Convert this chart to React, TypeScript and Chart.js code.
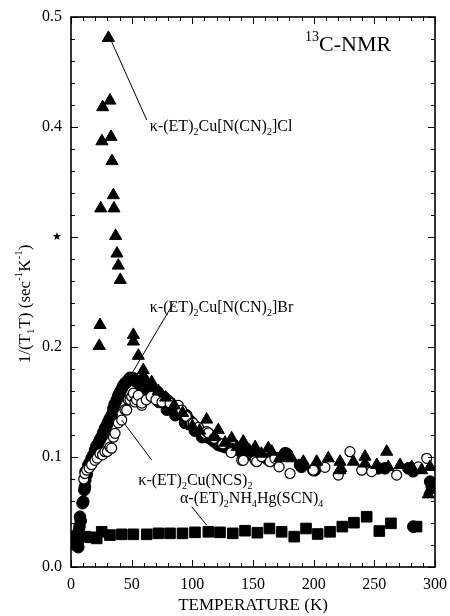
import { useEffect, useRef } from 'react';
import { Chart, registerables } from 'chart.js';

Chart.register(...registerables);

const FONT = '"Liberation Serif", "Times New Roman", serif';

const xTickValues = [0, 50, 100, 150, 200, 250, 300];
const yTickLabels = ['0.0', '0.1', '0.2', '★', '0.4', '0.5'];

// κ-(ET)2Cu[N(CN)2]Cl  (filled triangles)
const clT = [23.3, 23.9, 24.5, 25.5, 26.1, 30.8, 32.1, 33.0, 33.8, 34.9, 35.4, 36.8, 37.9, 39.0, 40.6,
  51.4, 51.4, 55.5, 59.6, 59.6, 61.5, 66.5, 72, 78, 85, 92, 100, 106, 111.8, 118, 121.4, 127, 132.4, 137,
  142, 142, 147, 151.7, 151.7, 157, 162.6, 165.4, 172, 181.9, 191.5, 192.3, 202.5, 212.1, 221.7, 221.7,
  222.3, 232.7, 242.3, 242.3, 252, 260.2, 261.5, 271.2, 280.8, 289, 295.9, 295.9, 294.5];
const clV = [0.201, 0.220, 0.326, 0.387, 0.418, 0.481, 0.424, 0.391, 0.369, 0.338, 0.326, 0.301, 0.285, 0.274, 0.261,
  0.211, 0.205, 0.192, 0.179, 0.174, 0.170, 0.168, 0.160, 0.154, 0.147, 0.140, 0.128, 0.124, 0.134, 0.118, 0.1245, 0.113, 0.117, 0.109,
  0.114, 0.109, 0.106, 0.109, 0.104, 0.103, 0.108, 0.1048, 0.099, 0.0988, 0.0957, 0.093, 0.0957, 0.0988, 0.0957, 0.088,
  0.090, 0.0957, 0.1003, 0.094, 0.0927, 0.1048, 0.091, 0.0927, 0.091, 0.088, 0.091, 0.070, 0.066];

// κ-(ET)2Cu[N(CN)2]Br  (filled circles)
const brT = [1.5, 2, 3, 3.5, 4.3, 4.7, 5.5, 6, 6.5, 7, 7.4, 8, 9.5, 10.1, 11, 11.5, 11.8, 12, 13, 14.3, 15.5, 17, 18.5,
  19.8, 21, 22.5, 24, 25.3, 26.5, 28, 29.5, 30.7, 32, 33.5, 34.9, 36, 37.7, 39, 40.4, 41.8, 43.1, 44.5, 46, 47.2,
  48.6, 50, 51.4, 53, 55.5, 57, 58.5, 60, 62.4, 64, 66, 68, 70, 71.5, 73.4, 75, 77, 78.8, 80, 81.6, 83, 85, 87, 89,
  91.2, 93, 95, 97, 99, 100.8, 103, 105, 107, 109, 110.4, 111.8, 114, 116, 118, 121.4, 121.4, 124, 127, 130, 133,
  136.6, 140, 144, 148, 152, 157, 162, 170, 176.4, 177.8, 188.7, 190, 199.7, 201, 253.3, 258.8, 278, 282, 282.1, 296, 297.3,
  65, 72.5, 79, 86, 94, 102, 108];
const brV = [0.026, 0.022, 0.028, 0.020, 0.0276, 0.020, 0.024, 0.018, 0.033, 0.0367, 0.0457, 0.042, 0.058, 0.0594, 0.070, 0.073, 0.079, 0.0867, 0.084, 0.0927, 0.095, 0.0988, 0.102,
  0.1064, 0.110, 0.1125, 0.116, 0.1185, 0.122, 0.126, 0.129, 0.132, 0.135, 0.138, 0.144, 0.148, 0.152, 0.156, 0.159, 0.162, 0.165, 0.167, 0.168, 0.170,
  0.172, 0.1715, 0.1715, 0.169, 0.168, 0.165, 0.163, 0.166, 0.164, 0.160, 0.161, 0.158, 0.156, 0.159, 0.156, 0.152, 0.154, 0.149, 0.151, 0.149, 0.145, 0.146, 0.142, 0.143,
  0.140, 0.137, 0.138, 0.134, 0.132, 0.129, 0.127, 0.125, 0.123, 0.121, 0.1215, 0.1185, 0.117, 0.116, 0.114, 0.1125, 0.111, 0.110, 0.109, 0.108, 0.107,
  0.1064, 0.105, 0.104, 0.102, 0.101, 0.100, 0.098, 0.099, 0.1034, 0.103, 0.0927, 0.091, 0.088, 0.088, 0.0897, 0.0897, 0.0897, 0.087, 0.0367, 0.0776, 0.073,
  0.157, 0.150, 0.143, 0.138, 0.131, 0.124, 0.118];

// κ-(ET)2Cu(NCS)2  (open circles)
const ncsT = [10.5, 11.5, 13, 15, 17, 19.8, 21.5, 23.9, 26, 28, 30, 32.1, 33.5, 35, 36.3, 39, 41.8, 44.5, 45.9, 47.2,
  48.6, 50, 51.4, 52.7, 54, 55.5, 58.3, 58.3, 62, 66, 70, 75, 81.6, 88.4, 91.2, 95, 99.5, 100.8, 105, 110.4, 111.8,
  113.2, 118, 125, 132, 140.7, 142, 151.7, 153, 157.2, 164, 168.1, 171.5, 180.5, 199.7, 209.3, 220.3, 229.9, 239.6,
  247.8, 268.4, 286.2, 293.2];
const ncsV = [0.080, 0.085, 0.088, 0.090, 0.093, 0.097, 0.099, 0.103, 0.102, 0.1048, 0.105, 0.109, 0.108, 0.118, 0.1215, 0.131, 0.1336, 0.143, 0.1427, 0.152,
  0.152, 0.155, 0.158, 0.150, 0.152, 0.156, 0.147, 0.149, 0.152, 0.155, 0.152, 0.150, 0.149, 0.147, 0.1427, 0.137, 0.1306, 0.1306, 0.127, 0.1215, 0.123,
  0.122, 0.117, 0.112, 0.104, 0.097, 0.097, 0.097, 0.0957, 0.1003, 0.0957, 0.0988, 0.091, 0.085, 0.088, 0.0906, 0.0836, 0.1048, 0.088,
  0.0867, 0.0836, 0.091, 0.0988];

// α-(ET)2NH4Hg(SCN)4  (filled squares)
const alphaT = [1.9, 6, 11.5, 16, 21.2, 25.3, 32.1, 41.8, 51.4, 62.4, 72, 81.6, 91.9, 102.2, 113.2, 122.8, 133.3, 143.4,
  153.6, 163.5, 173.6, 184, 193.7, 203.3, 213.5, 223.6, 233.2, 243.7, 254.1, 263.7, 284.8];
const alphaV = [0.026, 0.026, 0.0276, 0.027, 0.026, 0.032, 0.029, 0.0297, 0.0297, 0.0297, 0.0306, 0.0306, 0.0306, 0.0315, 0.032, 0.0315, 0.0306, 0.033,
  0.0312, 0.035, 0.032, 0.0276, 0.035, 0.030, 0.032, 0.0367, 0.0403, 0.0457, 0.0327, 0.0397, 0.0367];

const pts = (xs: number[], ys: number[]) => xs.map((x, i) => ({ x, y: ys[i] }));

type Seg = { t: string; sub?: boolean; sup?: boolean };

const labelCl: Seg[] = [{ t: 'κ-(ET)' }, { t: '2', sub: true }, { t: 'Cu[N(CN)' }, { t: '2', sub: true }, { t: ']Cl' }];
const labelBr: Seg[] = [{ t: 'κ-(ET)' }, { t: '2', sub: true }, { t: 'Cu[N(CN)' }, { t: '2', sub: true }, { t: ']Br' }];
const labelNcs: Seg[] = [{ t: 'κ-(ET)' }, { t: '2', sub: true }, { t: 'Cu(NCS)' }, { t: '2', sub: true }];
const labelAlpha: Seg[] = [{ t: 'α-(ET)' }, { t: '2', sub: true }, { t: 'NH' }, { t: '4', sub: true }, { t: 'Hg(SCN)' }, { t: '4', sub: true }];
const labelNmr: Seg[] = [{ t: '13', sup: true }, { t: 'C-NMR' }];
const yTitle: Seg[] = [{ t: '1/(T' }, { t: '1', sub: true }, { t: 'T) (sec' }, { t: '-1', sup: true }, { t: 'K' }, { t: '-1', sup: true }, { t: ')' }];

// annotations: text anchor (data coords) and leader line (data coords)
const annotations = [
  { segs: labelCl, tx: 65, ty: 0.400, line: [33.5, 0.4775, 62.4, 0.4064], size: 16 },
  { segs: labelBr, tx: 65, ty: 0.2355, line: [48.6, 0.173, 84.3, 0.2397], size: 16 },
  { segs: labelNcs, tx: 55.5, ty: 0.078, line: [41.8, 0.1336, 66.5, 0.0973], size: 16 },
  { segs: labelAlpha, tx: 89.8, ty: 0.0618, line: [99.5, 0.0548, 111.8, 0.038], size: 16 },
  { segs: labelNmr, tx: 192.9, ty: 0.474, line: null as number[] | null, size: 22 },
];

function segWidth(ctx: CanvasRenderingContext2D, segs: Seg[], size: number) {
  let w = 0;
  for (const s of segs) {
    ctx.font = `${s.sub || s.sup ? Math.round(size * 0.65) : size}px ${FONT}`;
    w += ctx.measureText(s.t).width;
  }
  return w;
}

function drawRich(ctx: CanvasRenderingContext2D, segs: Seg[], x: number, y: number, size: number) {
  let cx = x;
  ctx.textBaseline = 'middle';
  ctx.textAlign = 'left';
  for (const s of segs) {
    const small = s.sub || s.sup;
    ctx.font = `${small ? Math.round(size * 0.65) : size}px ${FONT}`;
    const dy = s.sub ? size * 0.32 : s.sup ? -size * 0.38 : 0;
    ctx.fillText(s.t, cx, y + dy);
    cx += ctx.measureText(s.t).width;
  }
}

const decorPlugin = {
  id: 'decor',
  afterDatasetsDraw(chart: any) {
    const { ctx, chartArea: a, scales } = chart;
    const xs = scales.x;
    const ys = scales.y;
    ctx.save();
    ctx.strokeStyle = '#000';
    ctx.fillStyle = '#000';
    ctx.lineWidth = 1;
    ctx.beginPath();
    for (let i = 0; i <= 30; i++) {
      const px = Math.round(xs.getPixelForValue(i * 10)) + 0.5;
      const len = i % 5 === 0 ? 7 : 4;
      ctx.moveTo(px, a.bottom); ctx.lineTo(px, a.bottom - len);
      ctx.moveTo(px, a.top); ctx.lineTo(px, a.top + len);
    }
    for (let i = 0; i <= 25; i++) {
      const py = Math.round(ys.getPixelForValue(i * 0.02)) + 0.5;
      const len = i % 5 === 0 ? 7 : 4;
      ctx.moveTo(a.left, py); ctx.lineTo(a.left + len, py);
      ctx.moveTo(a.right, py); ctx.lineTo(a.right - len, py);
    }
    ctx.stroke();
    ctx.lineWidth = 1.6;
    ctx.strokeRect(a.left, a.top, a.right - a.left, a.bottom - a.top);
    ctx.lineWidth = 1;
    for (const an of annotations) {
      if (an.line) {
        ctx.beginPath();
        ctx.moveTo(xs.getPixelForValue(an.line[0]), ys.getPixelForValue(an.line[1]));
        ctx.lineTo(xs.getPixelForValue(an.line[2]), ys.getPixelForValue(an.line[3]));
        ctx.stroke();
      }
      drawRich(ctx, an.segs, xs.getPixelForValue(an.tx), ys.getPixelForValue(an.ty), an.size);
    }
    ctx.font = `17px ${FONT}`;
    ctx.textAlign = 'center';
    ctx.textBaseline = 'middle';
    ctx.fillText('TEMPERATURE (K)', (a.left + a.right) / 2, 606);
    ctx.save();
    ctx.translate(26, 304);
    ctx.rotate(-Math.PI / 2);
    const w = segWidth(ctx, yTitle, 17);
    drawRich(ctx, yTitle, -w / 2, 0, 17);
    ctx.restore();
    ctx.restore();
  },
};

export default function App() {
  const ref = useRef<HTMLCanvasElement>(null);
  useEffect(() => {
    document.body.style.margin = '0';
    const chart = new Chart(ref.current!, {
      type: 'scatter',
      data: {
        datasets: [
          {
            label: 'κ-(ET)2Cu[N(CN)2]Cl', data: pts(clT, clV), pointStyle: 'triangle', pointRadius: 7,
            backgroundColor: '#000', borderColor: '#000', borderWidth: 1, order: 0,
          },
          {
            label: 'κ-(ET)2Cu(NCS)2', data: pts(ncsT, ncsV), pointStyle: 'circle', pointRadius: 5,
            backgroundColor: '#fff', borderColor: '#000', borderWidth: 1.2, order: 1,
          },
          {
            label: 'κ-(ET)2Cu[N(CN)2]Br', data: pts(brT, brV), pointStyle: 'circle', pointRadius: 5.8,
            backgroundColor: '#000', borderColor: '#000', borderWidth: 1, order: 2,
          },
          {
            label: 'α-(ET)2NH4Hg(SCN)4', data: pts(alphaT, alphaV), pointStyle: 'rect', pointRadius: 7.5,
            backgroundColor: '#000', borderColor: '#000', borderWidth: 1, order: 3,
          },
        ],
      },
      options: {
        animation: false,
        responsive: false,
        devicePixelRatio: 1,
        layout: { padding: { left: 0, top: 17, right: 15, bottom: 0 } },
        plugins: { legend: { display: false }, tooltip: { enabled: false } },
        scales: {
          x: {
            type: 'linear', min: 0, max: 300,
            grid: { display: false, drawTicks: false, tickLength: 0 },
            border: { display: false },
            afterBuildTicks: (s: any) => { s.ticks = xTickValues.map((v) => ({ value: v })); },
            afterFit: (s: any) => { s.height = 49; s.paddingLeft = 0; s.paddingRight = 0; },
            ticks: {
              padding: 8, color: '#000', maxRotation: 0, autoSkip: false,
              font: { family: FONT, size: 16 },
              callback: (v: any) => String(v),
            },
          },
          y: {
            type: 'linear', min: 0, max: 0.5,
            grid: { display: false, drawTicks: false, tickLength: 0 },
            border: { display: false },
            afterBuildTicks: (s: any) => { s.ticks = yTickLabels.map((_, i) => ({ value: i / 10 })); },
            afterFit: (s: any) => { s.width = 71; s.paddingTop = 0; s.paddingBottom = 0; },
            ticks: {
              padding: 9, color: '#000', autoSkip: false,
              font: (c: any) => (c.tick && Math.round(c.tick.value * 10) === 3
                ? { family: FONT, size: 11 } : { family: FONT, size: 16 }),
              callback: (v: any) => yTickLabels[Math.round(Number(v) * 10)],
            },
          },
        },
      },
      plugins: [decorPlugin],
    } as any);
    return () => chart.destroy();
  }, []);
  return (
    <div style={{ width: 450, height: 616 }}>
      <canvas ref={ref} width={450} height={616} style={{ display: 'block' }} />
    </div>
  );
}
